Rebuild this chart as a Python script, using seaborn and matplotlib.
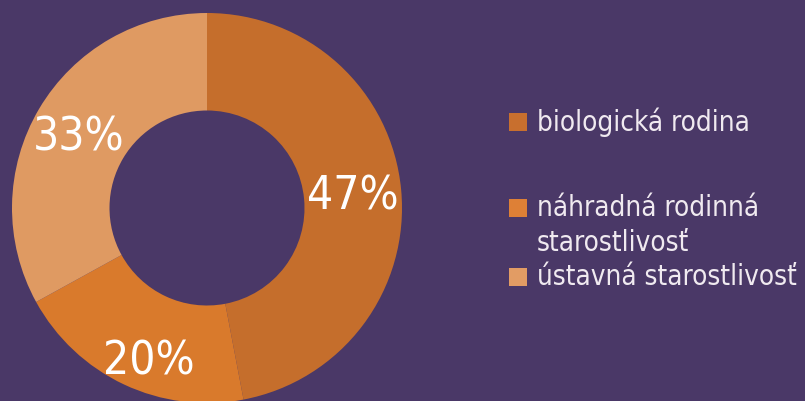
import matplotlib
matplotlib.use("Agg")
import matplotlib.pyplot as plt
from matplotlib.patches import Rectangle
import seaborn as sns

categories = ["biologická rodina", "náhradná rodinná\nstarostlivosť", "ústavná starostlivosť"]
values = [47, 20, 33]
labels = ["47%", "20%", "33%"]
colors = ["#c56e2c", "#d97a2c", "#df9a62"]
legend_colors = ["#c86f2e", "#de8036", "#e29c64"]

sns.set_theme(style="white")
plt.rcParams['font.family'] = ['DejaVu Sans']
BG = "#4a3867"

W, H = 805, 401
fig = plt.figure(figsize=(W / 100, H / 100), dpi=100, facecolor=BG)

cx, cy, R = 207, 208, 195
ax = fig.add_axes([(cx - R) / W, (H - cy - R) / H, 2 * R / W, 2 * R / H])
ax.set_facecolor(BG)
ax.pie(values, colors=colors, startangle=90, counterclock=False,
       radius=1, wedgeprops=dict(width=0.5, linewidth=0))
ax.set_xlim(-1, 1)
ax.set_ylim(-1, 1)
ax.set_aspect("equal")
ax.axis("off")

label_pos = [(353, 197), (149, 362), (79, 138)]
for lab, (x, y) in zip(labels, label_pos):
    fig.text(x / W, 1 - y / H, lab, color="white", fontsize=33,
             fontstretch="condensed", ha="center", va="center")

sq_x = 509
sq = 18
rows = [(122, 0), (208, 1), (277, 2)]
for y, i in rows:
    fig.patches.append(Rectangle(((sq_x) / W, 1 - (y + sq / 2) / H), sq / W, sq / H,
                                 transform=fig.transFigure, facecolor=legend_colors[i],
                                 edgecolor="none"))
text_lines = [(122, "biologická rodina"), (208, "náhradná rodinná"),
              (243, "starostlivosť"), (277, "ústavná starostlivosť")]
for y, t in text_lines:
    fig.text(537 / W, 1 - y / H, t, color="#f0eaf0", fontsize=20,
             fontstretch="condensed", ha="left", va="center")

fig.savefig("out.png", dpi=100, facecolor=BG)
